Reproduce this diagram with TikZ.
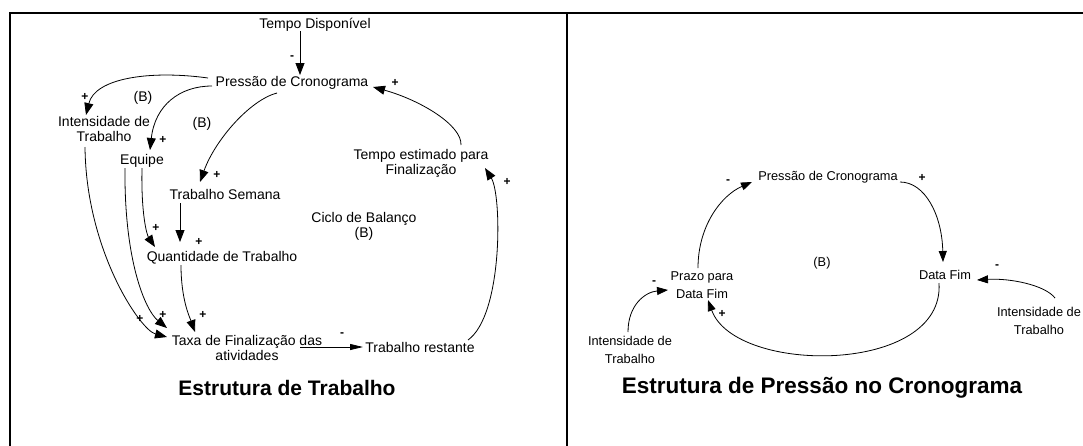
\documentclass[tikz,border=0pt]{standalone}
\usepackage{fontspec}
\setmainfont{Liberation Sans}
\usetikzlibrary{arrows.meta,calc}
\begin{document}
\begin{tikzpicture}[x=1pt,y=-1pt,
  lbl/.style={font=\fontsize{14}{15}\selectfont, align=center, inner sep=1pt},
  rlbl/.style={font=\fontsize{12.8}{18}\selectfont, align=center, inner sep=1pt},
  sgn/.style={font=\bfseries\fontsize{12}{12}\selectfont, inner sep=0pt},
  ttl/.style={font=\bfseries\fontsize{21}{22}\selectfont, inner sep=0pt},
  rttl/.style={font=\bfseries\fontsize{22.5}{24}\selectfont, inner sep=0pt},
  arr/.style={line width=0.8pt, -{Triangle[length=12pt,width=9pt]}},
  rarr/.style={line width=0.8pt, -{Triangle[length=11pt,width=8pt]}},
  harr/.style={line width=0.8pt, -{Triangle[length=13pt,width=6pt]}},
  frameline/.style={line width=2pt}]
\useasboundingbox (0,0) rectangle (1083,445);
\fill[white] (0,0) rectangle (1083,445);
% frame
\draw[frameline] (10,446) -- (10,13) -- (1084,13);
\draw[frameline] (567,13) -- (567,446);

% ---------- left panel ----------
\node[lbl] (td) at (315,25) {Tempo Disponível};
\node[lbl] (pc) at (292,83) {Pressão de Cronograma};
\node[lbl] (it) at (104,128.5) {Intensidade de\\Trabalho};
\node[lbl] (eq) at (142,161) {Equipe};
\node[lbl] (ts) at (225,194) {Trabalho Semana};
\node[lbl] (qt) at (222,258) {Quantidade de Trabalho};
\node[lbl] (tx) at (247,347.5) {Taxa de Finalização das\\atividades};
\node[lbl] (tr) at (420,347) {Trabalho restante};
\node[lbl] (te) at (421,163) {Tempo estimado para\\Finalização};
\node[lbl] (cb) at (364,226.5) {Ciclo de Balanço\\(B)};
\node[lbl] (b1) at (143,98) {(B)};
\node[lbl] (b2) at (202,124) {(B)};
\node[ttl] (t1) at (287,388) {Estrutura de Trabalho};

\draw[arr] ($(td)+(-15,6)$) -- ($(pc)+(8,-8)$);
\draw[arr] ($(pc)+(-84,-5)$) .. controls (150,70) and (95,78) .. ($(it)+(-18,-13.5)$);
\draw[arr] ($(pc)+(-80,3)$) .. controls (180,86) and (155,105) .. ($(eq)+(8,-11)$);
\draw[arr] ($(pc)+(-15,10)$) .. controls (250,100) and (215,140) .. ($(ts)+(-25,-12)$);
\draw[arr] ($(it)+(-19,18.5)$) .. controls (86,250) and (140,330) .. ($(tx)+(-80,-10.5)$);
\draw[arr] ($(eq)+(-17,7)$) .. controls (124,260) and (145,310) .. ($(tx)+(-80,-19.5)$);
\draw[arr] ($(eq)+(0,7)$) .. controls (141,215) and (147,235) .. ($(qt)+(-67,-11)$);
\draw[arr] ($(ts)+(-45,9)$) -- ($(qt)+(-42,-16)$);
\draw[arr] ($(qt)+(-41,7)$) .. controls (181,300) and (190,318) .. ($(tx)+(-52,-15.5)$);
\draw[harr] ($(tx)+(53,-0.5)$) -- ($(tr)+(-57,0)$);
\draw[arr] ($(tr)+(48,-7)$) .. controls (503,315) and (502,195) .. ($(te)+(64,5)$);
\draw[arr] ($(te)+(40,-18)$) .. controls (462,125) and (420,100) .. ($(pc)+(81,4)$);

\node[sgn] (s1) at (292,58) {-};
\node[sgn] (s2) at (395,83) {+};
\node[sgn] (s3) at (85,97) {+};
\node[sgn] (s4) at (163,140) {+};
\node[sgn] (s5) at (217,175) {+};
\node[sgn] (s6) at (156,228) {+};
\node[sgn] (s7) at (199,242) {+};
\node[sgn] (s8) at (140,319) {+};
\node[sgn] (s9) at (163,315) {+};
\node[sgn] (s10) at (203,315) {+};
\node[sgn] (s11) at (342,335) {-};
\node[sgn] (s12) at (507,182) {+};

% ---------- right panel ----------
\node[rlbl] (pc2) at (828,177) {Pressão de Cronograma};
\node[rlbl] (df) at (945,275) {Data Fim};
\node[rlbl] (pz) at (702,285.5) {Prazo para\\Data Fim};
\node[rlbl] (il) at (630,350) {Intensidade de\\Trabalho};
\node[rlbl] (ir) at (1039,320.5) {Intensidade de\\Trabalho};
\node[rlbl] (b3) at (822,263) {(B)};
\node[rttl] (t2) at (822,388) {Estrutura de Pressão no Cronograma};

\draw[rarr] ($(pz)+(-4,-17.5)$) .. controls (698,225) and (722,195) .. ($(pc2)+(-76,5)$);
\draw[rarr] ($(pc2)+(72,5)$) .. controls (925,182) and (942,215) .. ($(df)+(-2,-13)$);
\draw[rarr] ($(df)+(-6,8)$) .. controls (945,375) and (735,375) .. ($(pz)+(6,14.5)$);
\draw[rarr] ($(il)+(-2,-18)$) .. controls (628,305) and (645,292) .. ($(pz)+(-34,4.5)$);
\draw[rarr] ($(ir)+(16,-22.5)$) .. controls (1045,285) and (1010,278) .. ($(df)+(32,5)$);

\node[sgn] (r1) at (728,182) {-};
\node[sgn] (r2) at (922,178) {+};
\node[sgn] (r3) at (654,283) {-};
\node[sgn] (r4) at (722,314) {+};
\node[sgn] (r5) at (997,267) {-};
\end{tikzpicture}
\end{document}
